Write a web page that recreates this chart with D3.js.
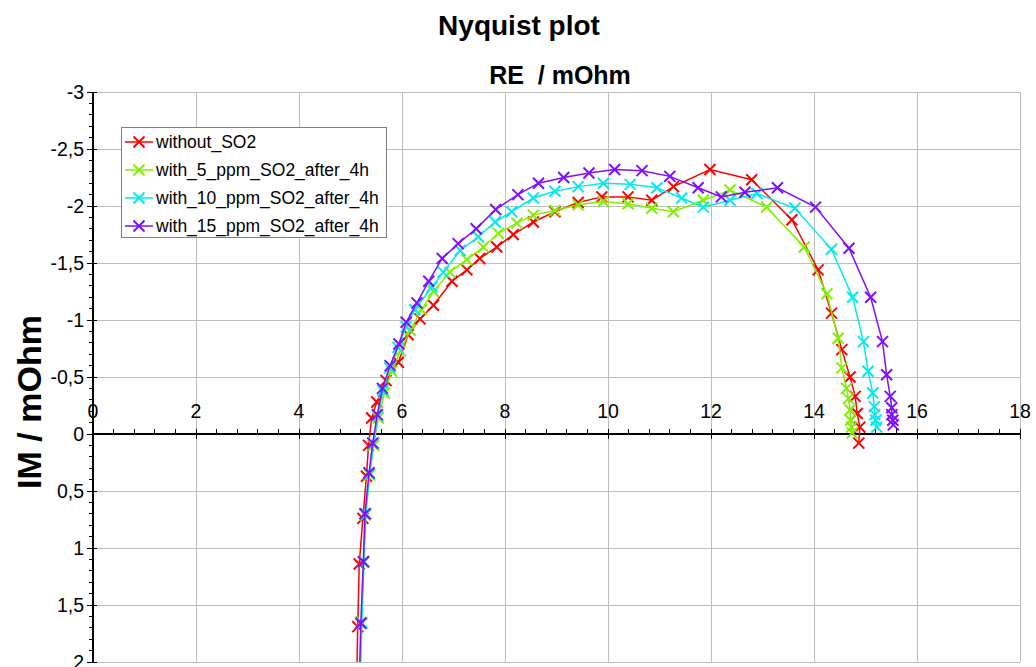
<!DOCTYPE html>
<html><head><meta charset="utf-8">
<script src="https://cdn.jsdelivr.net/npm/d3@7/dist/d3.min.js"></script>
<style>body{margin:0;background:#fff;}svg{display:block;font-family:"Liberation Sans",Arial,sans-serif;}</style>
</head><body><svg id="c" width="1036" height="667"></svg>
<script>
const seriesNames = ["without_SO2","with_5_ppm_SO2_after_4h","with_10_ppm_SO2_after_4h","with_15_ppm_SO2_after_4h"];
const seriesColors = ["#ff0000","#80f000","#00eaf0","#7f10ff"];
const xTicks = [0,2,4,6,8,10,12,14,16,18];
const yTicks = [-3,-2.5,-2,-1.5,-1,-0.5,0,0.5,1,1.5,2];

const reWithout = [5.12,5.14,5.17,5.24,5.31,5.35,5.41,5.51,5.69,5.93,6.12,6.35,6.61,6.97,7.26,7.51,7.84,8.16,8.55,8.97,9.42,9.88,10.39,10.85,11.27,11.98,12.79,13.57,14.08,14.34,14.54,14.70,14.80,14.84,14.89,14.87];
const imWithout = [2.2,1.69,1.14,0.74,0.37,0.10,-0.14,-0.28,-0.47,-0.63,-0.87,-1.01,-1.13,-1.34,-1.44,-1.54,-1.64,-1.75,-1.86,-1.95,-2.03,-2.08,-2.08,-2.05,-2.17,-2.32,-2.23,-1.88,-1.44,-1.06,-0.74,-0.50,-0.33,-0.18,-0.06,0.08];

const re5 = [5.18,5.21,5.25,5.29,5.37,5.45,5.54,5.66,5.80,5.97,6.16,6.38,6.61,6.93,7.26,7.58,7.87,8.23,8.55,8.97,9.42,9.91,10.39,10.85,11.27,11.85,12.37,13.08,13.81,14.25,14.47,14.54,14.63,14.67,14.70,14.71,14.73,14.74];
const im5 = [2.2,1.65,1.12,0.71,0.36,0.10,-0.14,-0.36,-0.55,-0.73,-0.91,-1.09,-1.25,-1.42,-1.53,-1.64,-1.76,-1.85,-1.92,-1.96,-2.01,-2.04,-2.02,-1.98,-1.95,-2.05,-2.14,-1.99,-1.64,-1.23,-0.84,-0.58,-0.40,-0.31,-0.21,-0.12,-0.06,-0.01];

const re10 = [5.19,5.22,5.26,5.30,5.37,5.45,5.53,5.63,5.76,5.92,6.08,6.25,6.58,6.80,7.13,7.48,7.81,8.13,8.55,8.97,9.42,9.91,10.43,10.95,11.43,11.85,12.37,12.89,13.63,14.34,14.75,14.96,15.05,15.14,15.17,15.18,15.20,15.22];
const im10 = [2.2,1.66,1.12,0.70,0.35,0.08,-0.16,-0.38,-0.58,-0.76,-0.94,-1.09,-1.29,-1.42,-1.61,-1.73,-1.86,-1.95,-2.07,-2.13,-2.17,-2.20,-2.19,-2.16,-2.07,-1.99,-2.05,-2.11,-1.98,-1.62,-1.20,-0.81,-0.55,-0.36,-0.24,-0.17,-0.12,-0.06];

const re15 = [5.17,5.20,5.25,5.28,5.36,5.43,5.52,5.62,5.77,5.94,6.08,6.29,6.52,6.78,7.09,7.44,7.82,8.25,8.65,9.14,9.63,10.13,10.66,11.20,11.75,12.20,12.66,13.29,14.03,14.68,15.10,15.33,15.41,15.48,15.51,15.51,15.53,15.54];
const im15 = [2.2,1.66,1.12,0.70,0.34,0.08,-0.17,-0.40,-0.60,-0.79,-0.98,-1.15,-1.34,-1.54,-1.67,-1.80,-1.97,-2.10,-2.20,-2.25,-2.29,-2.32,-2.31,-2.26,-2.16,-2.08,-2.12,-2.16,-1.99,-1.63,-1.20,-0.81,-0.52,-0.33,-0.23,-0.17,-0.12,-0.08];

const series = [[reWithout,imWithout],[re5,im5],[re10,im10],[re15,im15]];

const svg = d3.select("#c");
const L = 93, R = 1020, T = 92, B = 662;
const x = d3.scaleLinear().domain([0,18]).range([L,R]);
const y = d3.scaleLinear().domain([-3,2]).range([T,B]);

// gridlines
const g = svg.append("g");
g.selectAll("line.hg").data(yTicks).join("line")
  .attr("x1",L).attr("x2",R).attr("y1",d=>y(d)).attr("y2",d=>y(d))
  .attr("stroke","#bdbdbd").attr("stroke-width",1).attr("shape-rendering","crispEdges");
g.selectAll("line.vg").data(xTicks.filter(d=>d>0)).join("line")
  .attr("x1",d=>x(d)).attr("x2",d=>x(d)).attr("y1",T).attr("y2",B)
  .attr("stroke","#bdbdbd").attr("stroke-width",1).attr("shape-rendering","crispEdges");

// axes
const ax = svg.append("g").attr("stroke","#000").attr("shape-rendering","crispEdges");
ax.append("line").attr("x1",x(0)).attr("x2",x(0)).attr("y1",T).attr("y2",B).attr("stroke-width",1.3);
ax.append("line").attr("x1",L).attr("x2",R).attr("y1",y(0)).attr("y2",y(0)).attr("stroke-width",1.3);
const yMinor = d3.range(-30,21).map(d=>d/10);
ax.selectAll("line.ym").data(yMinor).join("line")
  .attr("x1",x(0)-4).attr("x2",x(0)+1).attr("y1",d=>y(d)).attr("y2",d=>y(d));
ax.selectAll("line.yM").data(yTicks).join("line")
  .attr("x1",x(0)-6).attr("x2",x(0)+4).attr("y1",d=>y(d)).attr("y2",d=>y(d));
const xMinor = d3.range(0,46).map(d=>d*0.4);
ax.selectAll("line.xm").data(xMinor).join("line")
  .attr("x1",d=>x(d)).attr("x2",d=>x(d)).attr("y1",y(0)-5).attr("y2",y(0));
ax.selectAll("line.xM").data(xTicks).join("line")
  .attr("x1",d=>x(d)).attr("x2",d=>x(d)).attr("y1",y(0)-5).attr("y2",y(0)+5);

const fmt = d=>String(d).replace(".",",");
svg.append("g").selectAll("text").data(yTicks).join("text")
  .attr("x",x(0)-9).attr("y",d=>y(d)+7).attr("text-anchor","end")
  .attr("font-size",19.5).attr("fill","#000").text(fmt);
svg.append("g").selectAll("text").data(xTicks).join("text")
  .attr("x",d=>x(d)).attr("y",y(0)-16).attr("text-anchor","middle")
  .attr("font-size",19.5).attr("fill","#000").text(fmt);

// titles
svg.append("text").attr("x",519).attr("y",35).attr("text-anchor","middle")
  .attr("font-size",28).attr("font-weight","bold").text("Nyquist plot");
svg.append("text").attr("x",560).attr("y",84).attr("text-anchor","middle")
  .attr("font-size",25).attr("font-weight","bold").attr("xml:space","preserve").text("RE  / mOhm");
svg.append("text").attr("transform","translate(41,402) rotate(-90)").attr("text-anchor","middle")
  .attr("font-size",34).attr("font-weight","bold").text("IM / mOhm");

// series
svg.append("clipPath").attr("id","pc").append("rect").attr("x",L).attr("y",T).attr("width",R-L).attr("height",B-T);
const line = d3.line().x(d=>x(d[0])).y(d=>y(d[1]));
const ms = 5.5;
const cross = `M${-ms},${-ms}L${ms},${ms}M${-ms},${ms}L${ms},${-ms}`;
series.forEach((s,i)=>{
  const pts = s[0].map((v,k)=>[v,s[1][k]]);
  const sg = svg.append("g").attr("clip-path","url(#pc)");
  sg.append("path").datum(pts).attr("d",line).attr("fill","none")
    .attr("stroke",seriesColors[i]).attr("stroke-width",1.5);
  sg.selectAll("path.m").data(pts).join("path").attr("class","m")
    .attr("transform",d=>`translate(${x(d[0])},${y(d[1])})`).attr("d",cross)
    .attr("stroke",seriesColors[i]).attr("stroke-width",2).attr("fill","none");
});

// legend
const lg = svg.append("g");
lg.append("rect").attr("x",121.5).attr("y",127.5).attr("width",265).attr("height",110)
  .attr("fill","#fff").attr("stroke","#808080").attr("stroke-width",1);
seriesNames.forEach((n,i)=>{
  const cy = 142 + i*28;
  lg.append("line").attr("x1",125).attr("x2",153).attr("y1",cy).attr("y2",cy)
    .attr("stroke",seriesColors[i]).attr("stroke-width",1.5);
  lg.append("path").attr("transform",`translate(139,${cy})`).attr("d",cross)
    .attr("stroke",seriesColors[i]).attr("stroke-width",2).attr("fill","none");
  lg.append("text").attr("x",156).attr("y",cy+6).attr("font-size",17.5).attr("fill","#000").text(n);
});
</script></body></html>
